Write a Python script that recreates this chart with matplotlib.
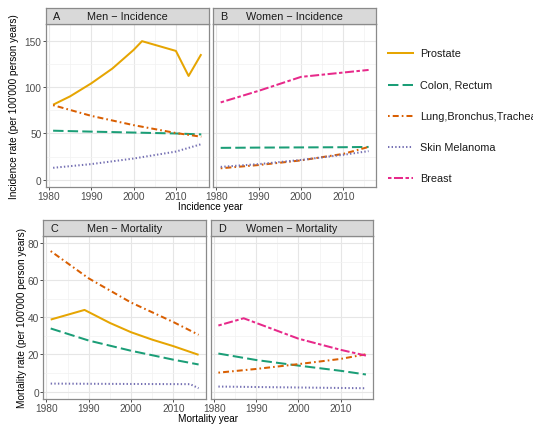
import matplotlib
matplotlib.use("Agg")
import matplotlib.pyplot as plt
from matplotlib.lines import Line2D
from matplotlib.ticker import MultipleLocator

plt.rcParams['font.family'] = ['Liberation Sans', 'DejaVu Sans']
plt.rcParams['lines.scale_dashes'] = False

# cancer sites, colours and ggplot-like line types
sites = ["Prostate", "Colon, Rectum", "Lung,Bronchus,Trachea", "Skin Melanoma", "Breast"]
colors = ["#E6A502", "#1B9E77", "#D95F02", "#7570B3", "#E7298A"]
dashes = [None, (0, (7.5, 3.0)), (0, (1.2, 2.2, 4.3, 2.2)), (0, (1.0, 1.6)),
          (0, (2.5, 1.8, 6.5, 1.8))]

# A: men incidence
men_inc = {
    "Prostate": ([1981, 1985, 1990, 1995, 2000, 2002, 2010, 2013, 2016],
                 [81, 90, 104, 120, 140, 149.5, 139, 112, 135.5]),
    "Colon, Rectum": ([1981, 1990, 2000, 2010, 2016], [53, 52, 51, 50, 49]),
    "Lung,Bronchus,Trachea": ([1981, 1990, 2000, 2010, 2016], [80.5, 69, 59, 50.5, 46.5]),
    "Skin Melanoma": ([1981, 1990, 2000, 2010, 2016], [13, 17, 23, 30.5, 38.5]),
}
# B: women incidence
women_inc = {
    "Colon, Rectum": ([1981, 1990, 2000, 2010, 2016], [34.5, 34.8, 35, 35.2, 35.5]),
    "Lung,Bronchus,Trachea": ([1981, 1990, 2000, 2010, 2016], [12.5, 16, 21, 28, 35.5]),
    "Skin Melanoma": ([1981, 1990, 2000, 2010, 2016], [14, 17, 21.5, 27, 31]),
    "Breast": ([1981, 1990, 2000, 2016], [83.5, 96, 111, 118.5]),
}
# C: men mortality
men_mort = {
    "Prostate": ([1981, 1989, 1995, 2000, 2005, 2010, 2016],
                 [38.8, 44, 37, 32, 28, 24.5, 19.8]),
    "Colon, Rectum": ([1981, 1990, 2000, 2010, 2016], [34, 27.5, 22, 17.2, 14.6]),
    "Lung,Bronchus,Trachea": ([1981, 1990, 2000, 2010, 2016], [75.7, 61, 48, 37.5, 30.6]),
    "Skin Melanoma": ([1981, 2000, 2014, 2016], [4.3, 4.1, 4.0, 1.8]),
}
# D: women mortality
women_mort = {
    "Colon, Rectum": ([1981, 1990, 2000, 2010, 2016], [20.5, 17, 14, 11.2, 9.2]),
    "Lung,Bronchus,Trachea": ([1981, 1990, 2000, 2010, 2016], [10.2, 12.2, 14.8, 17.6, 20.1]),
    "Skin Melanoma": ([1981, 2000, 2016], [2.7, 2.2, 1.8]),
    "Breast": ([1981, 1987, 2000, 2010, 2016], [35.6, 39.5, 28.5, 22.5, 19.4]),
}

W, H = 533, 439
fig = plt.figure(figsize=(W / 100, H / 100), dpi=100)


def box(x0, x1, y0, y1):
    # pixel box (top-left origin) -> figure fraction rect
    return [x0 / W, 1 - y1 / H, (x1 - x0) / W, (y1 - y0) / H]


border = "#8A8A8A"


def panel(rect, strip_rect, letter, title, data, ylim, ymajor, yminor, show_y):
    ax = fig.add_axes(rect)
    for name, (yrs, vals) in data.items():
        i = sites.index(name)
        ls = '-' if dashes[i] is None else dashes[i]
        ax.plot(yrs, vals, color=colors[i], lw=1.45, linestyle=ls, solid_capstyle='butt')
    ax.set_xlim(1979.25, 2017.75)
    ax.set_ylim(*ylim)
    ax.xaxis.set_major_locator(MultipleLocator(10))
    ax.xaxis.set_minor_locator(MultipleLocator(5))
    ax.yaxis.set_major_locator(MultipleLocator(ymajor))
    ax.yaxis.set_minor_locator(MultipleLocator(yminor))
    ax.grid(which='major', color='#E6E6E6', lw=0.8)
    ax.grid(which='minor', color='#F2F2F2', lw=0.5)
    ax.set_axisbelow(True)
    for s in ax.spines.values():
        s.set_color(border)
        s.set_linewidth(0.9)
    ax.tick_params(which='major', length=2.2, width=0.6, color='#333333',
                   labelsize=7.3, labelcolor='#4D4D4D', pad=0.8)
    ax.tick_params(which='minor', length=0)
    if not show_y:
        ax.tick_params(axis='y', left=False, labelleft=False)
    sax = fig.add_axes(strip_rect)
    sax.set_facecolor('#D9D9D9')
    sax.set_xticks([])
    sax.set_yticks([])
    for s in sax.spines.values():
        s.set_color(border)
        s.set_linewidth(0.9)
    sax.text(0.045, 0.5, letter, ha='left', va='center', fontsize=7.8, color='#1A1A1A',
             transform=sax.transAxes)
    sax.text(0.5, 0.5, title, ha='center', va='center', fontsize=7.8, color='#1A1A1A',
             transform=sax.transAxes)
    return ax


panel(box(45.7, 208.7, 25, 188.3), box(45.7, 208.7, 9.3, 25), "A", "Men \u2212 Incidence",
      men_inc, (-8, 168), 50, 25, True)
panel(box(213.3, 376, 25, 188.3), box(213.3, 376, 9.3, 25), "B", "Women \u2212 Incidence",
      women_inc, (-8, 168), 50, 25, False)
panel(box(43.3, 206, 236.7, 400), box(43.3, 206, 221, 236.7), "C", "Men \u2212 Mortality",
      men_mort, (-4, 84), 20, 10, True)
panel(box(211, 373.3, 236.7, 400), box(211, 373.3, 221, 236.7), "D", "Women \u2212 Mortality",
      women_mort, (-4, 84), 20, 10, False)

# axis titles
fig.text(210.7 / W, 1 - 207.5 / H, "Incidence year", ha='center', va='center', fontsize=7.2)
fig.text(208 / W, 1 - 419.5 / H, "Mortality year", ha='center', va='center', fontsize=7.2)
fig.text(14.5 / W, 1 - 107 / H, "Incidence rate (per 100'000 person years)", rotation=90,
         ha='center', va='center', fontsize=7.2)
fig.text(22 / W, 1 - 318 / H, "Mortality rate (per 100'000 person years)", rotation=90,
         ha='center', va='center', fontsize=7.2)

# legend
key_y = [54, 86, 117, 148, 179]
for i, name in enumerate(sites):
    y = 1 - key_y[i] / H
    ls = '-' if dashes[i] is None else dashes[i]
    fig.add_artist(Line2D([388 / W, 413 / W], [y, y], color=colors[i], lw=1.45, linestyle=ls))
    fig.text(420.5 / W, y, name, ha='left', va='center', fontsize=7.8, color='#1A1A1A')

fig.savefig("out.png", dpi=100)
